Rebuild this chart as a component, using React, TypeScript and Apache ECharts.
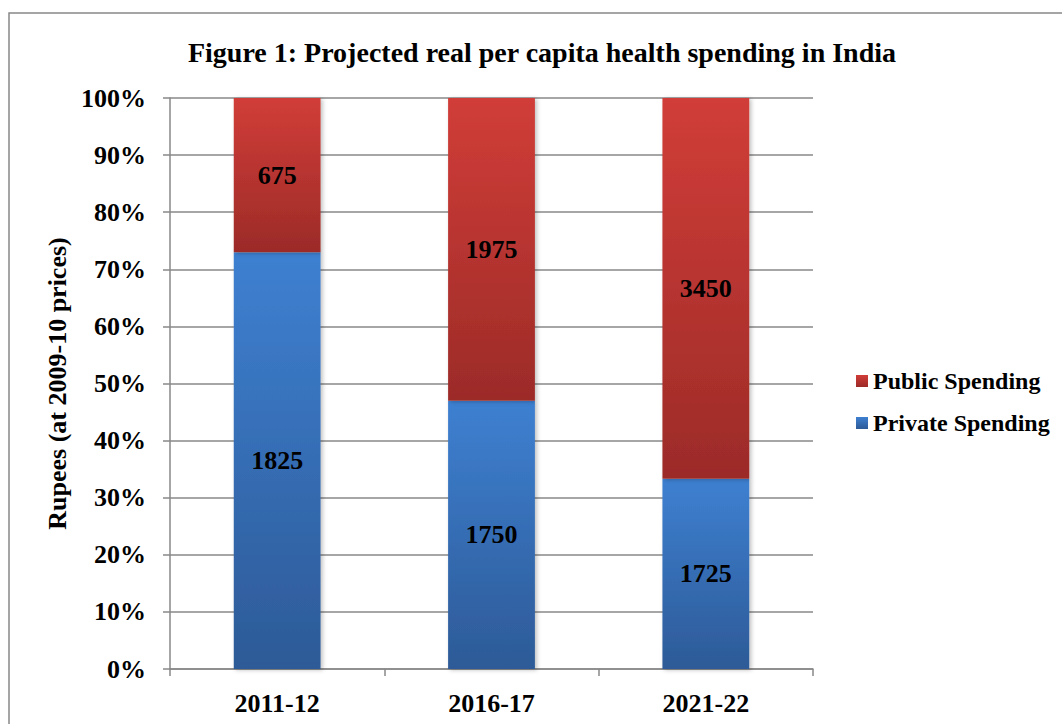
import React, { useEffect, useRef } from "react";
import * as echarts from "echarts";

const categories = ["2011-12", "2016-17", "2021-22"];
const privateSpending = [1825, 1750, 1725];
const publicSpending = [675, 1975, 3450];
const yTicks = [0, 10, 20, 30, 40, 50, 60, 70, 80, 90, 100];

const FONT = "'Liberation Serif', 'Times New Roman', serif";

export default function App() {
  const ref = useRef<HTMLDivElement>(null);
  useEffect(() => {
    if (!ref.current) return;
    const chart = echarts.init(ref.current, null, { renderer: "svg" });
    const totals = categories.map((_, i) => privateSpending[i] + publicSpending[i]);
    const privShare = privateSpending.map((v, i) => (v / totals[i]) * 100);
    const pubShare = publicSpending.map((v, i) => (v / totals[i]) * 100);
    const grad = (top: string, bottom: string) =>
      new echarts.graphic.LinearGradient(0, 0, 0, 1, [
        { offset: 0, color: top },
        { offset: 1, color: bottom },
      ]);
    const label = (raw: number[]) => ({
      show: true,
      position: "inside" as const,
      formatter: (p: any) => String(raw[p.dataIndex]),
      color: "#000",
      fontFamily: FONT,
      fontWeight: "bold" as const,
      fontSize: 26,
    });
    chart.setOption({
      animation: false,
      backgroundColor: "#fff",
      title: {
        text: "Figure 1: Projected real per capita health spending in India",
        left: 537,
        textAlign: "center",
        top: 33,
        textStyle: { fontFamily: FONT, fontWeight: "bold", fontSize: 28, color: "#000" },
      },
      graphic: [
        {
          type: "rect",
          shape: { x: 9, y: 13, width: 1200, height: 900 },
          style: { fill: "none", stroke: "#888", lineWidth: 1.5 },
          silent: true,
        },
      ],
      legend: {
        orient: "vertical",
        left: 851,
        top: 364,
        itemWidth: 12,
        itemHeight: 12,
        itemGap: 18,
        icon: "rect",
        data: ["Public Spending", "Private Spending"],
        textStyle: { fontFamily: FONT, fontWeight: "bold", fontSize: 24, color: "#000" },
      },
      grid: { left: 170, right: 249, top: 98, bottom: 55, containLabel: false },
      xAxis: {
        type: "category",
        data: categories,
        axisLine: { lineStyle: { color: "#888", width: 1.5 } },
        axisTick: { show: true, length: 7, alignWithLabel: false, lineStyle: { color: "#888", width: 1.5 } },
        axisLabel: { fontFamily: FONT, fontWeight: "bold", fontSize: 26, color: "#000", margin: 21 },
      },
      yAxis: {
        type: "value",
        min: yTicks[0],
        max: yTicks[yTicks.length - 1],
        interval: 10,
        name: "Rupees (at 2009-10 prices)",
        nameLocation: "middle",
        nameRotate: 90,
        nameGap: 95,
        nameTextStyle: { fontFamily: FONT, fontWeight: "bold", fontSize: 26, color: "#000" },
        axisLine: { show: true, lineStyle: { color: "#888", width: 1.5 } },
        axisTick: { show: true, length: 7, lineStyle: { color: "#888", width: 1.5 } },
        axisLabel: {
          formatter: "{value}%",
          fontFamily: FONT,
          fontWeight: "bold",
          fontSize: 26,
          color: "#000",
          margin: 24,
        },
        splitLine: { lineStyle: { color: "#888", width: 1.5 } },
      },
      series: [
        {
          name: "Private Spending",
          type: "bar",
          stack: "s",
          barWidth: "40.5%",
          data: privShare,
          itemStyle: {
            color: grad("#3e80d1", "#2d5a97"),
            shadowBlur: 4,
            shadowOffsetX: 2,
            shadowOffsetY: 1,
            shadowColor: "rgba(0,0,0,0.25)",
          },
          label: label(privateSpending),
        },
        {
          name: "Public Spending",
          type: "bar",
          stack: "s",
          barWidth: "40.5%",
          data: pubShare,
          itemStyle: {
            color: grad("#d13d38", "#9c2b28"),
            shadowBlur: 4,
            shadowOffsetX: 2,
            shadowOffsetY: 1,
            shadowColor: "rgba(0,0,0,0.25)",
          },
          label: label(publicSpending),
        },
      ],
    });
    return () => chart.dispose();
  }, []);
  return (
    <div
      ref={ref}
      style={{ position: "absolute", left: 0, top: 0, width: 1062, height: 724 }}
    />
  );
}
